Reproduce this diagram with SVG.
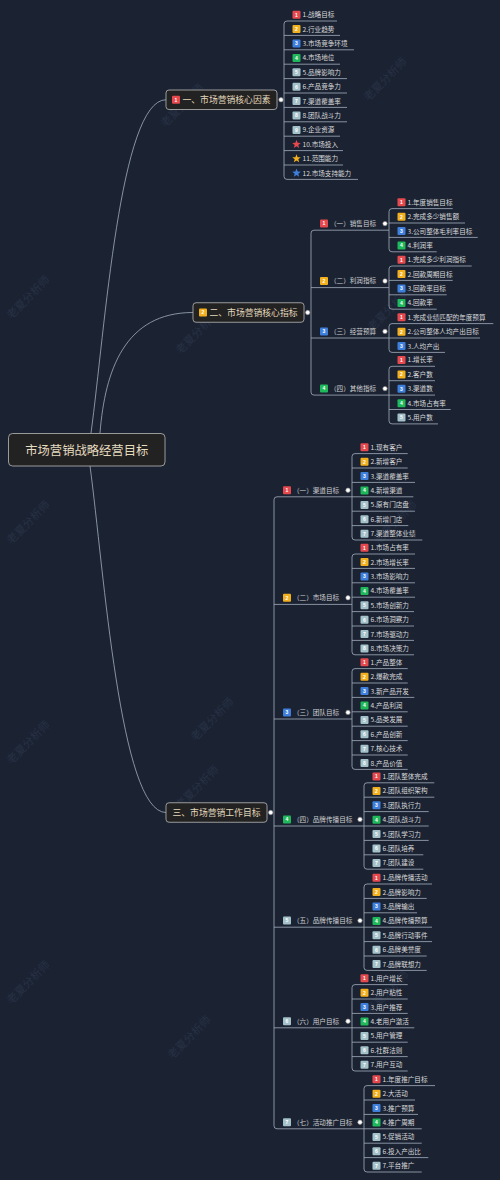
<svg xmlns="http://www.w3.org/2000/svg" xmlns:xlink="http://www.w3.org/1999/xlink" width="500" height="1180" viewBox="0 0 500 1180">
<defs>
<style>
.ln{fill:none;stroke:#a3adbd;stroke-width:0.8}
.lf{font-family:"Noto Sans CJK SC","Noto Sans",sans-serif;font-size:6.6px;fill:#dadada}
.sl{font-family:"Noto Sans CJK SC","Noto Sans",sans-serif;font-size:6.6px;fill:#cfcfcf}
.bt{font-family:"Noto Sans CJK SC","Noto Sans",sans-serif;font-size:8.8px;fill:#e3d9bd}
.rt{font-family:"Noto Sans CJK SC","Noto Sans",sans-serif;font-size:12.3px;fill:#e6dcc0;text-anchor:middle}
.bx{fill:#222222;stroke:#a8a8a8;stroke-width:0.9}
.n{font-family:"Liberation Sans",sans-serif;font-size:5px;font-weight:bold;fill:#ffffff;text-anchor:middle}
.r{fill:#e5484d}.y{fill:#f2b01e}.b{fill:#3f7fdc}.g{fill:#1fb85a}.s{fill:#a4c1c9}
.dot{fill:#ffffff;stroke:#8a8a8a;stroke-width:0.6}
.wm{font-family:"Noto Sans CJK SC",sans-serif;font-size:11px;fill:#273144;text-anchor:middle}
</style>
<path id="star" d="M0,-4.5 L1.12,-1.54 L4.28,-1.39 L1.81,0.59 L2.65,3.64 L0,1.9 L-2.65,3.64 L-1.81,0.59 L-4.28,-1.39 L-1.12,-1.54 Z"/>
</defs>
<rect width="500" height="1180" fill="#1b2333"/>
<g id="watermarks">
<text class="wm" x="185" y="108" transform="rotate(-45 185 108)">老夏分析师</text>
<text class="wm" x="388" y="82" transform="rotate(-45 388 82)">老夏分析师</text>
<text class="wm" x="200" y="335" transform="rotate(-45 200 335)">老夏分析师</text>
<text class="wm" x="392" y="312" transform="rotate(-45 392 312)">老夏分析师</text>
<text class="wm" x="398" y="525" transform="rotate(-45 398 525)">老夏分析师</text>
<text class="wm" x="200" y="790" transform="rotate(-45 200 790)">老夏分析师</text>
<text class="wm" x="215" y="722" transform="rotate(-45 215 722)">老夏分析师</text>
<text class="wm" x="390" y="995" transform="rotate(-45 390 995)">老夏分析师</text>
<text class="wm" x="192" y="1040" transform="rotate(-45 192 1040)">老夏分析师</text>
<text class="wm" x="31" y="300" transform="rotate(-45 31 300)">老夏分析师</text>
<text class="wm" x="31" y="525" transform="rotate(-45 31 525)">老夏分析师</text>
<text class="wm" x="31" y="745" transform="rotate(-45 31 745)">老夏分析师</text>
<text class="wm" x="31" y="985" transform="rotate(-45 31 985)">老夏分析师</text>
</g>
<g id="connectors">
<path class="ln" d="M91,433 C105,330 120,99.75 166,99.75"/>
<path class="ln" d="M100,433 C105,370 125,312.5 193,312.5"/>
<path class="ln" d="M90,466 C104,570 120,812.5 166,812.5"/>
<path class="ln" d="M337,21 H287 Q284,21 284,24 V176.4 Q284,179.4 287,179.4 H358 M284,35.4 H340 M284,49.8 H354 M284,64.2 H340 M284,78.6 H347 M284,93 H347 M284,107.4 H347 M284,121.8 H347 M284,136.2 H340 M284,150.6 H343 M284,165 H343"/>
<path class="ln" d="M389,230.2 H314 Q311,230.2 311,233.2 V392.1 Q311,395.1 314,395.1 H389 M311,287.6 H389 M311,338 H389"/>
<path class="ln" d="M452.7,208.6 H392 Q389,208.6 389,211.6 V248.8 Q389,251.8 392,251.8 H436.7 M389,223 H465 M389,237.4 H477.7"/>
<path class="ln" d="M471.7,266 H392 Q389,266 389,269 V306.2 Q389,309.2 392,309.2 H436.7 M389,280.4 H452.7 M389,294.8 H446.7"/>
<path class="ln" d="M493.3,323.6 H392 Q389,323.6 389,326.6 V349.4 Q389,352.4 392,352.4 H445 M389,338 H480"/>
<path class="ln" d="M435,366.3 H392 Q389,366.3 389,369.3 V420.9 Q389,423.9 392,423.9 H438 M389,380.7 H435 M389,395.1 H435 M389,409.5 H450.7"/>
<path class="ln" d="M352,496.8 H277 Q274,496.8 274,499.8 V1125.8 Q274,1128.8 277,1128.8 H364 M274,604.4 H352 M274,719 H352 M274,826 H364 M274,927.2 H364 M274,1027.8 H352"/>
<path class="ln" d="M407.7,453.6 H355 Q352,453.6 352,456.6 V537 Q352,540 355,540 H422.3 M352,468 H407.7 M352,482.4 H415 M352,496.8 H413.3 M352,511.2 H415 M352,525.6 H408.3"/>
<path class="ln" d="M415,554 H355 Q352,554 352,557 V651.8 Q352,654.8 355,654.8 H414 M352,568.4 H415 M352,582.8 H415 M352,597.2 H415 M352,611.6 H414 M352,626 H414 M352,640.4 H414"/>
<path class="ln" d="M407.7,668.6 H355 Q352,668.6 352,671.6 V766.4 Q352,769.4 355,769.4 H407.7 M352,683 H407.7 M352,697.4 H414.3 M352,711.8 H407.7 M352,726.2 H407.7 M352,740.6 H407.7 M352,755 H407.7"/>
<path class="ln" d="M434.3,782.8 H367 Q364,782.8 364,785.8 V866.2 Q364,869.2 367,869.2 H423.3 M364,797.2 H434.3 M364,811.6 H428.7 M364,826 H428.7 M364,840.4 H428.7 M364,854.8 H423.3"/>
<path class="ln" d="M432,884 H367 Q364,884 364,887 V967.4 Q364,970.4 367,970.4 H426.7 M364,898.4 H426.7 M364,912.8 H417 M364,927.2 H432 M364,941.6 H432 M364,956 H426.7"/>
<path class="ln" d="M407.7,984.6 H355 Q352,984.6 352,987.6 V1068 Q352,1071 355,1071 H407.7 M352,999 H407.7 M352,1013.4 H407.7 M352,1027.8 H414.3 M352,1042.2 H407.7 M352,1056.6 H407.7"/>
<path class="ln" d="M435,1085.6 H367 Q364,1085.6 364,1088.6 V1169 Q364,1172 367,1172 H421.7 M364,1100 H415 M364,1114.4 H418 M364,1128.8 H421.7 M364,1143.2 H421.7 M364,1157.6 H428.3"/>
</g>
<g id="root"><rect class="bx" x="8.5" y="433.5" width="156.5" height="32.5" rx="4"/><text class="rt" x="86.75" y="454.5">市场营销战略经营目标</text></g>
<g id="branch1"><rect class="bx" x="166" y="90" width="111" height="19.5" rx="3"/><rect class="r" x="172" y="95.75" width="8" height="8" rx="1"/><text class="n" x="176" y="101.6">1</text><text class="bt" x="182.5" y="103">一、市场营销核心因素</text><circle class="dot" cx="281" cy="99.75" r="2.2"/></g>
<g id="branch2"><rect class="bx" x="193" y="302.75" width="111" height="19.5" rx="3"/><rect class="y" x="199" y="308.5" width="8" height="8" rx="1"/><text class="n" x="203" y="314.3">2</text><text class="bt" x="209.5" y="315.7">二、市场营销核心指标</text><circle class="dot" cx="307.7" cy="312.5" r="2.2"/></g>
<g id="branch3"><rect class="bx" x="166" y="802.75" width="101" height="19.5" rx="3"/><text class="bt" x="172.5" y="815.7">三、市场营销工作目标</text><circle class="dot" cx="270.7" cy="812.5" r="2.2"/></g>
<g id="b1-1"><rect class="r" x="292.5" y="10.7" width="8" height="8" rx="1"/><text class="n" x="296.5" y="16.5">1</text><text class="lf" x="302.5" y="17.1">1.战略目标</text></g>
<g id="b1-2"><rect class="y" x="292.5" y="25.1" width="8" height="8" rx="1"/><text class="n" x="296.5" y="30.9">2</text><text class="lf" x="302.5" y="31.5">2.行业趋势</text></g>
<g id="b1-3"><rect class="b" x="292.5" y="39.5" width="8" height="8" rx="1"/><text class="n" x="296.5" y="45.3">3</text><text class="lf" x="302.5" y="45.9">3.市场竞争环境</text></g>
<g id="b1-4"><rect class="g" x="292.5" y="53.9" width="8" height="8" rx="1"/><text class="n" x="296.5" y="59.7">4</text><text class="lf" x="302.5" y="60.3">4.市场地位</text></g>
<g id="b1-5"><rect class="s" x="292.5" y="68.3" width="8" height="8" rx="1"/><text class="n" x="296.5" y="74.1">5</text><text class="lf" x="302.5" y="74.7">5.品牌影响力</text></g>
<g id="b1-6"><rect class="s" x="292.5" y="82.7" width="8" height="8" rx="1"/><text class="n" x="296.5" y="88.5">6</text><text class="lf" x="302.5" y="89.1">6.产品竞争力</text></g>
<g id="b1-7"><rect class="s" x="292.5" y="97.1" width="8" height="8" rx="1"/><text class="n" x="296.5" y="102.9">7</text><text class="lf" x="302.5" y="103.5">7.渠道覆盖率</text></g>
<g id="b1-8"><rect class="s" x="292.5" y="111.5" width="8" height="8" rx="1"/><text class="n" x="296.5" y="117.3">8</text><text class="lf" x="302.5" y="117.9">8.团队战斗力</text></g>
<g id="b1-9"><rect class="s" x="292.5" y="125.9" width="8" height="8" rx="1"/><text class="n" x="296.5" y="131.7">9</text><text class="lf" x="302.5" y="132.3">9.企业资源</text></g>
<g id="b1-10"><use href="#star" x="296.5" y="144.3" class="r"/><text class="lf" x="302.5" y="146.7">10.市场投入</text></g>
<g id="b1-11"><use href="#star" x="296.5" y="158.7" class="y"/><text class="lf" x="302.5" y="161.1">11.范围能力</text></g>
<g id="b1-12"><use href="#star" x="296.5" y="173.1" class="b"/><text class="lf" x="302.5" y="175.5">12.市场支持能力</text></g>
<g id="s1"><rect class="r" x="320" y="219.6" width="8" height="8" rx="1"/><text class="n" x="324" y="225.4">1</text><text class="sl" x="330" y="226">（一）销售目标</text><circle class="dot" cx="385" cy="223.6" r="2.2"/></g>
<g id="s2"><rect class="y" x="320" y="277" width="8" height="8" rx="1"/><text class="n" x="324" y="282.8">2</text><text class="sl" x="330" y="283.4">（二）利润指标</text><circle class="dot" cx="385" cy="281" r="2.2"/></g>
<g id="s3"><rect class="b" x="320" y="327.4" width="8" height="8" rx="1"/><text class="n" x="324" y="333.2">3</text><text class="sl" x="330" y="333.8">（三）经营预算</text><circle class="dot" cx="385" cy="331.4" r="2.2"/></g>
<g id="s4"><rect class="g" x="320" y="384.6" width="8" height="8" rx="1"/><text class="n" x="324" y="390.4">4</text><text class="sl" x="330" y="391">（四）其他指标</text><circle class="dot" cx="385" cy="388.6" r="2.2"/></g>
<g id="s1-1"><rect class="r" x="397.5" y="198.3" width="8" height="8" rx="1"/><text class="n" x="401.5" y="204.1">1</text><text class="lf" x="407.5" y="204.7">1.年度销售目标</text></g>
<g id="s1-2"><rect class="y" x="397.5" y="212.7" width="8" height="8" rx="1"/><text class="n" x="401.5" y="218.5">2</text><text class="lf" x="407.5" y="219.1">2.完成多少销售额</text></g>
<g id="s1-3"><rect class="b" x="397.5" y="227.1" width="8" height="8" rx="1"/><text class="n" x="401.5" y="232.9">3</text><text class="lf" x="407.5" y="233.5">3.公司整体毛利率目标</text></g>
<g id="s1-4"><rect class="g" x="397.5" y="241.5" width="8" height="8" rx="1"/><text class="n" x="401.5" y="247.3">4</text><text class="lf" x="407.5" y="247.9">4.利润率</text></g>
<g id="s2-1"><rect class="r" x="397.5" y="255.7" width="8" height="8" rx="1"/><text class="n" x="401.5" y="261.5">1</text><text class="lf" x="407.5" y="262.1">1.完成多少利润指标</text></g>
<g id="s2-2"><rect class="y" x="397.5" y="270.1" width="8" height="8" rx="1"/><text class="n" x="401.5" y="275.9">2</text><text class="lf" x="407.5" y="276.5">2.回款周期目标</text></g>
<g id="s2-3"><rect class="b" x="397.5" y="284.5" width="8" height="8" rx="1"/><text class="n" x="401.5" y="290.3">3</text><text class="lf" x="407.5" y="290.9">3.回款率目标</text></g>
<g id="s2-4"><rect class="g" x="397.5" y="298.9" width="8" height="8" rx="1"/><text class="n" x="401.5" y="304.7">4</text><text class="lf" x="407.5" y="305.3">4.回款率</text></g>
<g id="s3-1"><rect class="r" x="397.5" y="313.3" width="8" height="8" rx="1"/><text class="n" x="401.5" y="319.1">1</text><text class="lf" x="407.5" y="319.7">1.完成业绩匹配的年度预算</text></g>
<g id="s3-2"><rect class="y" x="397.5" y="327.7" width="8" height="8" rx="1"/><text class="n" x="401.5" y="333.5">2</text><text class="lf" x="407.5" y="334.1">2.公司整体人均产出目标</text></g>
<g id="s3-3"><rect class="b" x="397.5" y="342.1" width="8" height="8" rx="1"/><text class="n" x="401.5" y="347.9">3</text><text class="lf" x="407.5" y="348.5">3.人均产出</text></g>
<g id="s4-1"><rect class="r" x="397.5" y="356" width="8" height="8" rx="1"/><text class="n" x="401.5" y="361.8">1</text><text class="lf" x="407.5" y="362.4">1.增长率</text></g>
<g id="s4-2"><rect class="y" x="397.5" y="370.4" width="8" height="8" rx="1"/><text class="n" x="401.5" y="376.2">2</text><text class="lf" x="407.5" y="376.8">2.客户数</text></g>
<g id="s4-3"><rect class="b" x="397.5" y="384.8" width="8" height="8" rx="1"/><text class="n" x="401.5" y="390.6">3</text><text class="lf" x="407.5" y="391.2">3.渠道数</text></g>
<g id="s4-4"><rect class="g" x="397.5" y="399.2" width="8" height="8" rx="1"/><text class="n" x="401.5" y="405">4</text><text class="lf" x="407.5" y="405.6">4.市场占有率</text></g>
<g id="s4-5"><rect class="s" x="397.5" y="413.6" width="8" height="8" rx="1"/><text class="n" x="401.5" y="419.4">5</text><text class="lf" x="407.5" y="420">5.用户数</text></g>
<g id="t1"><rect class="r" x="283" y="486.2" width="8" height="8" rx="1"/><text class="n" x="287" y="492">1</text><text class="sl" x="293" y="492.6">（一）渠道目标</text><circle class="dot" cx="348" cy="490.2" r="2.2"/></g>
<g id="t2"><rect class="y" x="283" y="593.8" width="8" height="8" rx="1"/><text class="n" x="287" y="599.6">2</text><text class="sl" x="293" y="600.2">（二）市场目标</text><circle class="dot" cx="348" cy="597.8" r="2.2"/></g>
<g id="t3"><rect class="b" x="283" y="708.4" width="8" height="8" rx="1"/><text class="n" x="287" y="714.2">3</text><text class="sl" x="293" y="714.8">（三）团队目标</text><circle class="dot" cx="348" cy="712.4" r="2.2"/></g>
<g id="t4"><rect class="g" x="283" y="815.4" width="8" height="8" rx="1"/><text class="n" x="287" y="821.2">4</text><text class="sl" x="293" y="821.8">（四）品牌传播目标</text><circle class="dot" cx="360" cy="819.4" r="2.2"/></g>
<g id="t5"><rect class="s" x="283" y="916.6" width="8" height="8" rx="1"/><text class="n" x="287" y="922.4">5</text><text class="sl" x="293" y="923">（五）品牌传播目标</text><circle class="dot" cx="360" cy="920.6" r="2.2"/></g>
<g id="t6"><rect class="s" x="283" y="1017.2" width="8" height="8" rx="1"/><text class="n" x="287" y="1023">6</text><text class="sl" x="293" y="1023.6">（六）用户目标</text><circle class="dot" cx="348" cy="1021.2" r="2.2"/></g>
<g id="t7"><rect class="s" x="283" y="1118.2" width="8" height="8" rx="1"/><text class="n" x="287" y="1124">7</text><text class="sl" x="293" y="1124.6">（七）活动推广目标</text><circle class="dot" cx="360" cy="1122.2" r="2.2"/></g>
<g id="t1-1"><rect class="r" x="360.5" y="443.3" width="8" height="8" rx="1"/><text class="n" x="364.5" y="449.1">1</text><text class="lf" x="370.5" y="449.7">1.现有客户</text></g>
<g id="t1-2"><rect class="y" x="360.5" y="457.7" width="8" height="8" rx="1"/><text class="n" x="364.5" y="463.5">2</text><text class="lf" x="370.5" y="464.1">2.新增客户</text></g>
<g id="t1-3"><rect class="b" x="360.5" y="472.1" width="8" height="8" rx="1"/><text class="n" x="364.5" y="477.9">3</text><text class="lf" x="370.5" y="478.5">3.渠道覆盖率</text></g>
<g id="t1-4"><rect class="g" x="360.5" y="486.5" width="8" height="8" rx="1"/><text class="n" x="364.5" y="492.3">4</text><text class="lf" x="370.5" y="492.9">4.新增渠道</text></g>
<g id="t1-5"><rect class="s" x="360.5" y="500.9" width="8" height="8" rx="1"/><text class="n" x="364.5" y="506.7">5</text><text class="lf" x="370.5" y="507.3">5.原有门店盘</text></g>
<g id="t1-6"><rect class="s" x="360.5" y="515.3" width="8" height="8" rx="1"/><text class="n" x="364.5" y="521.1">6</text><text class="lf" x="370.5" y="521.7">6.新增门店</text></g>
<g id="t1-7"><rect class="s" x="360.5" y="529.7" width="8" height="8" rx="1"/><text class="n" x="364.5" y="535.5">7</text><text class="lf" x="370.5" y="536.1">7.渠道整体业绩</text></g>
<g id="t2-1"><rect class="r" x="360.5" y="543.7" width="8" height="8" rx="1"/><text class="n" x="364.5" y="549.5">1</text><text class="lf" x="370.5" y="550.1">1.市场占有率</text></g>
<g id="t2-2"><rect class="y" x="360.5" y="558.1" width="8" height="8" rx="1"/><text class="n" x="364.5" y="563.9">2</text><text class="lf" x="370.5" y="564.5">2.市场增长率</text></g>
<g id="t2-3"><rect class="b" x="360.5" y="572.5" width="8" height="8" rx="1"/><text class="n" x="364.5" y="578.3">3</text><text class="lf" x="370.5" y="578.9">3.市场影响力</text></g>
<g id="t2-4"><rect class="g" x="360.5" y="586.9" width="8" height="8" rx="1"/><text class="n" x="364.5" y="592.7">4</text><text class="lf" x="370.5" y="593.3">4.市场覆盖率</text></g>
<g id="t2-5"><rect class="s" x="360.5" y="601.3" width="8" height="8" rx="1"/><text class="n" x="364.5" y="607.1">5</text><text class="lf" x="370.5" y="607.7">5.市场创新力</text></g>
<g id="t2-6"><rect class="s" x="360.5" y="615.7" width="8" height="8" rx="1"/><text class="n" x="364.5" y="621.5">6</text><text class="lf" x="370.5" y="622.1">6.市场洞察力</text></g>
<g id="t2-7"><rect class="s" x="360.5" y="630.1" width="8" height="8" rx="1"/><text class="n" x="364.5" y="635.9">7</text><text class="lf" x="370.5" y="636.5">7.市场驱动力</text></g>
<g id="t2-8"><rect class="s" x="360.5" y="644.5" width="8" height="8" rx="1"/><text class="n" x="364.5" y="650.3">8</text><text class="lf" x="370.5" y="650.9">8.市场决策力</text></g>
<g id="t3-1"><rect class="r" x="360.5" y="658.3" width="8" height="8" rx="1"/><text class="n" x="364.5" y="664.1">1</text><text class="lf" x="370.5" y="664.7">1.产品整体</text></g>
<g id="t3-2"><rect class="y" x="360.5" y="672.7" width="8" height="8" rx="1"/><text class="n" x="364.5" y="678.5">2</text><text class="lf" x="370.5" y="679.1">2.爆款完成</text></g>
<g id="t3-3"><rect class="b" x="360.5" y="687.1" width="8" height="8" rx="1"/><text class="n" x="364.5" y="692.9">3</text><text class="lf" x="370.5" y="693.5">3.新产品开发</text></g>
<g id="t3-4"><rect class="g" x="360.5" y="701.5" width="8" height="8" rx="1"/><text class="n" x="364.5" y="707.3">4</text><text class="lf" x="370.5" y="707.9">4.产品利润</text></g>
<g id="t3-5"><rect class="s" x="360.5" y="715.9" width="8" height="8" rx="1"/><text class="n" x="364.5" y="721.7">5</text><text class="lf" x="370.5" y="722.3">5.品类发展</text></g>
<g id="t3-6"><rect class="s" x="360.5" y="730.3" width="8" height="8" rx="1"/><text class="n" x="364.5" y="736.1">6</text><text class="lf" x="370.5" y="736.7">6.产品创新</text></g>
<g id="t3-7"><rect class="s" x="360.5" y="744.7" width="8" height="8" rx="1"/><text class="n" x="364.5" y="750.5">7</text><text class="lf" x="370.5" y="751.1">7.核心技术</text></g>
<g id="t3-8"><rect class="s" x="360.5" y="759.1" width="8" height="8" rx="1"/><text class="n" x="364.5" y="764.9">8</text><text class="lf" x="370.5" y="765.5">8.产品价值</text></g>
<g id="t4-1"><rect class="r" x="372.5" y="772.5" width="8" height="8" rx="1"/><text class="n" x="376.5" y="778.3">1</text><text class="lf" x="382.5" y="778.9">1.团队整体完成</text></g>
<g id="t4-2"><rect class="y" x="372.5" y="786.9" width="8" height="8" rx="1"/><text class="n" x="376.5" y="792.7">2</text><text class="lf" x="382.5" y="793.3">2.团队组织架构</text></g>
<g id="t4-3"><rect class="b" x="372.5" y="801.3" width="8" height="8" rx="1"/><text class="n" x="376.5" y="807.1">3</text><text class="lf" x="382.5" y="807.7">3.团队执行力</text></g>
<g id="t4-4"><rect class="g" x="372.5" y="815.7" width="8" height="8" rx="1"/><text class="n" x="376.5" y="821.5">4</text><text class="lf" x="382.5" y="822.1">4.团队战斗力</text></g>
<g id="t4-5"><rect class="s" x="372.5" y="830.1" width="8" height="8" rx="1"/><text class="n" x="376.5" y="835.9">5</text><text class="lf" x="382.5" y="836.5">5.团队学习力</text></g>
<g id="t4-6"><rect class="s" x="372.5" y="844.5" width="8" height="8" rx="1"/><text class="n" x="376.5" y="850.3">6</text><text class="lf" x="382.5" y="850.9">6.团队培养</text></g>
<g id="t4-7"><rect class="s" x="372.5" y="858.9" width="8" height="8" rx="1"/><text class="n" x="376.5" y="864.7">7</text><text class="lf" x="382.5" y="865.3">7.团队建设</text></g>
<g id="t5-1"><rect class="r" x="372.5" y="873.7" width="8" height="8" rx="1"/><text class="n" x="376.5" y="879.5">1</text><text class="lf" x="382.5" y="880.1">1.品牌传播活动</text></g>
<g id="t5-2"><rect class="y" x="372.5" y="888.1" width="8" height="8" rx="1"/><text class="n" x="376.5" y="893.9">2</text><text class="lf" x="382.5" y="894.5">2.品牌影响力</text></g>
<g id="t5-3"><rect class="b" x="372.5" y="902.5" width="8" height="8" rx="1"/><text class="n" x="376.5" y="908.3">3</text><text class="lf" x="382.5" y="908.9">3.品牌输出</text></g>
<g id="t5-4"><rect class="g" x="372.5" y="916.9" width="8" height="8" rx="1"/><text class="n" x="376.5" y="922.7">4</text><text class="lf" x="382.5" y="923.3">4.品牌传播预算</text></g>
<g id="t5-5"><rect class="s" x="372.5" y="931.3" width="8" height="8" rx="1"/><text class="n" x="376.5" y="937.1">5</text><text class="lf" x="382.5" y="937.7">5.品牌行动事件</text></g>
<g id="t5-6"><rect class="s" x="372.5" y="945.7" width="8" height="8" rx="1"/><text class="n" x="376.5" y="951.5">6</text><text class="lf" x="382.5" y="952.1">6.品牌美誉度</text></g>
<g id="t5-7"><rect class="s" x="372.5" y="960.1" width="8" height="8" rx="1"/><text class="n" x="376.5" y="965.9">7</text><text class="lf" x="382.5" y="966.5">7.品牌联想力</text></g>
<g id="t6-1"><rect class="r" x="360.5" y="974.3" width="8" height="8" rx="1"/><text class="n" x="364.5" y="980.1">1</text><text class="lf" x="370.5" y="980.7">1.用户增长</text></g>
<g id="t6-2"><rect class="y" x="360.5" y="988.7" width="8" height="8" rx="1"/><text class="n" x="364.5" y="994.5">2</text><text class="lf" x="370.5" y="995.1">2.用户粘性</text></g>
<g id="t6-3"><rect class="b" x="360.5" y="1003.1" width="8" height="8" rx="1"/><text class="n" x="364.5" y="1008.9">3</text><text class="lf" x="370.5" y="1009.5">3.用户推荐</text></g>
<g id="t6-4"><rect class="g" x="360.5" y="1017.5" width="8" height="8" rx="1"/><text class="n" x="364.5" y="1023.3">4</text><text class="lf" x="370.5" y="1023.9">4.老用户激活</text></g>
<g id="t6-5"><rect class="s" x="360.5" y="1031.9" width="8" height="8" rx="1"/><text class="n" x="364.5" y="1037.7">5</text><text class="lf" x="370.5" y="1038.3">5.用户管理</text></g>
<g id="t6-6"><rect class="s" x="360.5" y="1046.3" width="8" height="8" rx="1"/><text class="n" x="364.5" y="1052.1">6</text><text class="lf" x="370.5" y="1052.7">6.社群法则</text></g>
<g id="t6-7"><rect class="s" x="360.5" y="1060.7" width="8" height="8" rx="1"/><text class="n" x="364.5" y="1066.5">7</text><text class="lf" x="370.5" y="1067.1">7.用户互动</text></g>
<g id="t7-1"><rect class="r" x="372.5" y="1075.3" width="8" height="8" rx="1"/><text class="n" x="376.5" y="1081.1">1</text><text class="lf" x="382.5" y="1081.7">1.年度推广目标</text></g>
<g id="t7-2"><rect class="y" x="372.5" y="1089.7" width="8" height="8" rx="1"/><text class="n" x="376.5" y="1095.5">2</text><text class="lf" x="382.5" y="1096.1">2.大活动</text></g>
<g id="t7-3"><rect class="b" x="372.5" y="1104.1" width="8" height="8" rx="1"/><text class="n" x="376.5" y="1109.9">3</text><text class="lf" x="382.5" y="1110.5">3.推广预算</text></g>
<g id="t7-4"><rect class="g" x="372.5" y="1118.5" width="8" height="8" rx="1"/><text class="n" x="376.5" y="1124.3">4</text><text class="lf" x="382.5" y="1124.9">4.推广周期</text></g>
<g id="t7-5"><rect class="s" x="372.5" y="1132.9" width="8" height="8" rx="1"/><text class="n" x="376.5" y="1138.7">5</text><text class="lf" x="382.5" y="1139.3">5.促销活动</text></g>
<g id="t7-6"><rect class="s" x="372.5" y="1147.3" width="8" height="8" rx="1"/><text class="n" x="376.5" y="1153.1">6</text><text class="lf" x="382.5" y="1153.7">6.投入产出比</text></g>
<g id="t7-7"><rect class="s" x="372.5" y="1161.7" width="8" height="8" rx="1"/><text class="n" x="376.5" y="1167.5">7</text><text class="lf" x="382.5" y="1168.1">7.平台推广</text></g>
</svg>
